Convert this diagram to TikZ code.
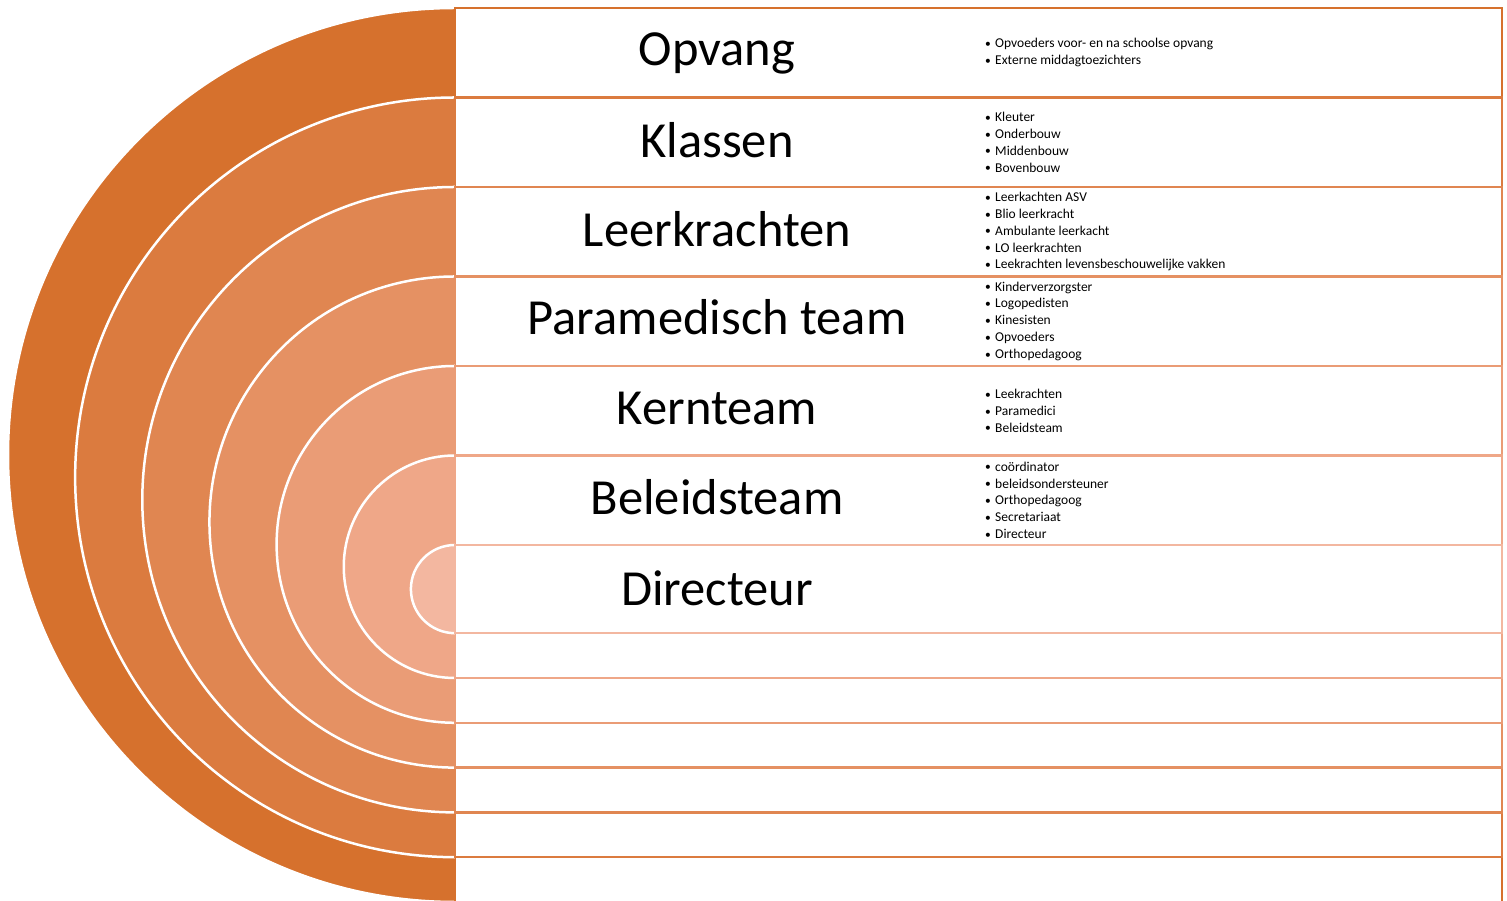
\documentclass[tikz,border=0pt]{standalone}
\usepackage{fontspec}
\setmainfont{Carlito}
\definecolor{ringa}{HTML}{D6712D}
\definecolor{ringb}{HTML}{DB7B3F}
\definecolor{ringc}{HTML}{E08651}
\definecolor{ringd}{HTML}{E59163}
\definecolor{ringe}{HTML}{EA9C76}
\definecolor{ringf}{HTML}{EFA788}
\definecolor{ringg}{HTML}{F3B7A0}
\newcommand{\itm}[1]{\makebox[10pt][l]{\raisebox{.3pt}{\fontsize{11.5}{11.5}\selectfont\textbullet}}#1}
\tikzset{
  title/.style={anchor=base,inner sep=0pt,font=\fontsize{50.5}{58}\selectfont,text=black},
  lst/.style={anchor=west,align=left,inner sep=0pt,font=\fontsize{13.5}{16.8}\selectfont,text=black},
  arcline/.style={draw=white,line width=2.5pt},
  rowbox/.style={fill=white,line width=2.5pt},
}
\begin{document}
\begin{tikzpicture}[x=1pt,y=1pt]
  \useasboundingbox (0,0) rectangle (1507,901);
  \clip (0,0) rectangle (1507,901);
  % ── rings and rows, outside in ──
  \foreach \i/\col in {0/ringa,1/ringb,2/ringc,3/ringd,4/ringe,5/ringf,6/ringg}{
    \pgfmathsetmacro\R{447-67.15*\i}
    \pgfmathsetmacro\cy{446-22.35*\i}
    \fill[\col] (455,\cy+\R) arc[start angle=90,end angle=270,radius=\R pt] -- cycle;
    \draw[arcline] (455,\cy+\R) arc[start angle=90,end angle=270,radius=\R pt];
    \draw[rowbox,draw=\col] (455,\cy-\R) rectangle (1502,\cy+\R);
  }
  % ── titles ──
  \node[title] (opvang) at (717,835) {Opvang};
  \node[title] (klassen) at (717,743) {Klassen};
  \node[title] (leerkr) at (717,654) {Leerkrachten};
  \node[title] (para) at (717,566) {Paramedisch team};
  \node[title] (kern) at (717,476) {Kernteam};
  \node[title] (beleid) at (717,386) {Beleidsteam};
  \node[title] (dir) at (717,295) {Directeur};
  % ── lists ──
  \node[lst] (opvanglst) at (985,848.25) {\itm{Opvoeders voor- en na schoolse opvang}\\\itm{Externe middagtoezichters}};
  \node[lst] (klassenlst) at (985,758.75) {\itm{Kleuter}\\\itm{Onderbouw}\\\itm{Middenbouw}\\\itm{Bovenbouw}};
  \node[lst] (leerkrlst) at (985,669.25) {\itm{Leerkachten ASV}\\\itm{Blio leerkracht}\\\itm{Ambulante leerkacht}\\\itm{LO leerkrachten}\\\itm{Leekrachten levensbeschouwelijke vakken}};
  \node[lst] (paralst) at (985,579.75) {\itm{Kinderverzorgster}\\\itm{Logopedisten}\\\itm{Kinesisten}\\\itm{Opvoeders}\\\itm{Orthopedagoog}};
  \node[lst] (kernlst) at (985,490.25) {\itm{Leekrachten}\\\itm{Paramedici}\\\itm{Beleidsteam}};
  \node[lst] (beleidlst) at (985,400.75) {\itm{coördinator}\\\itm{beleidsondersteuner}\\\itm{Orthopedagoog}\\\itm{Secretariaat}\\\itm{Directeur}};
\end{tikzpicture}
\end{document}
